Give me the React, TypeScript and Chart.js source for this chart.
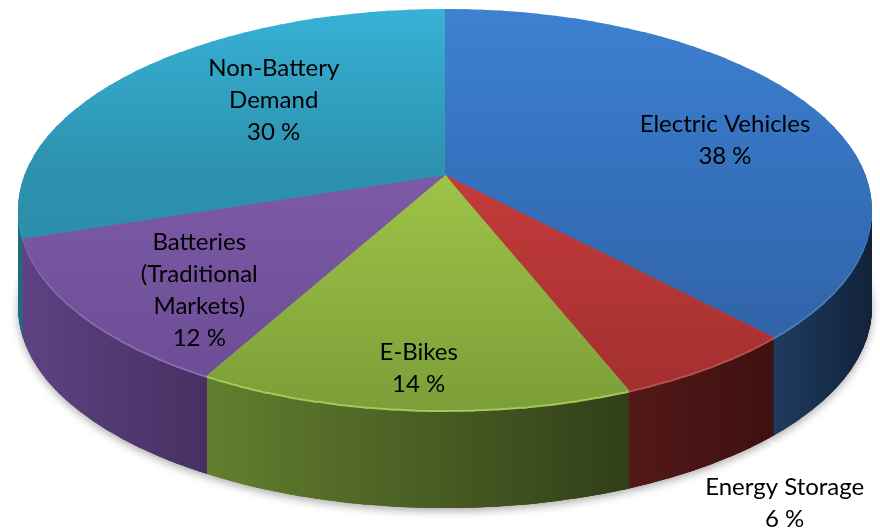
import React, { useEffect, useRef } from 'react';
import { Chart, registerables } from 'chart.js';

Chart.register(...registerables);

// ---- data ----
const categories = ['Electric Vehicles', 'Energy Storage', 'E-Bikes', 'Batteries (Traditional Markets)', 'Non-Battery Demand'];
const labelLines = [['Electric Vehicles'], ['Energy Storage'], ['E-Bikes'], ['Batteries', '(Traditional', 'Markets)'], ['Non-Battery', 'Demand']];
const shares = [38, 6, 14, 12, 30];

// ---- styles ----
// top face: colour at screen top edge, at pie centre, at front edge
const topColors = [
  ['#3D81D1', '#3571BD', '#2F5E9F'],
  ['#CA4242', '#C33C3B', '#A12E2E'],
  ['#A8D04D', '#9DC447', '#7B9E38'],
  ['#8765B2', '#7C5AA6', '#6B4B93'],
  ['#37B1D6', '#2C91AD', '#2A8AA5'],
];
// side wall: left, right
const wallColors = [
  ['#1F3B60', '#12223A'],
  ['#541818', '#3E1010'],
  ['#637F2E', '#313F19'],
  ['#5E4283', '#473061'],
  ['#1F6A80', '#1F6A80'],
];
// thin light bevel along the front rim
const rimColors = ['#4D80BE', '#BA5050', '#A5C95A', '#8A6DB0', '#4AA5C0'];
// label layout (radius factor on the top face, nudges); outside = placed below the rim
const labelLayout = [
  { f: 0.75, dx: 0, dy: 17 },
  { outside: true, dx: 76, dy: 38 },
  { f: 0.85, dx: 0, dy: 0 },
  { f: 0.7, dx: 0, dy: 21 },
  { f: 0.55, dx: 6, dy: -15 },
];

// perspective of the pie's top plane
const PERSP = { x0: 445, y0: 175, alpha: 420.6, beta: 194.6, k: 0.1721, depth: 98 };
const WEDGES = 120;
const OVERLAP_PX = 1.5;
const FONT = '24px Lato';
const LINE_H = 32;

function project(u: number, v: number) {
  const w = 1 - PERSP.k * v;
  return { x: PERSP.x0 + (PERSP.alpha * u) / w, y: PERSP.y0 + (PERSP.beta * v) / w };
}

type T = { a: number; b: number; c: number; d: number; e: number; f: number };

function wedgeTransform(C: { x: number; y: number }, R: number, p1: number, p2: number, dy: number): T {
  const e1x = Math.cos(p1), e1y = Math.sin(p1), e2x = Math.cos(p2), e2y = Math.sin(p2);
  const q1 = project(e1x, e1y), q2 = project(e2x, e2y);
  const q1x = q1.x - PERSP.x0, q1y = q1.y - PERSP.y0, q2x = q2.x - PERSP.x0, q2y = q2.y - PERSP.y0;
  const det = e1x * e2y - e2x * e1y;
  const A00 = (q1x * e2y - q2x * e1y) / det;
  const A01 = (-q1x * e2x + q2x * e1x) / det;
  const A10 = (q1y * e2y - q2y * e1y) / det;
  const A11 = (-q1y * e2x + q2y * e1x) / det;
  const a = A00 / R, c = A01 / R, b = A10 / R, d = A11 / R;
  return { a, b, c, d, e: PERSP.x0 - a * C.x - c * C.y, f: PERSP.y0 + dy - b * C.x - d * C.y };
}

// gradient in chart space whose isolines are vertical (axis x) or horizontal (axis y) on screen
function screenGradient(ctx: CanvasRenderingContext2D, t: T, axis: 'x' | 'y', s0: number, s1: number, stops: [number, string][]) {
  const nx = axis === 'x' ? t.a : t.b;
  const ny = axis === 'x' ? t.c : t.d;
  const off = axis === 'x' ? t.e : t.f;
  const n2 = nx * nx + ny * ny;
  const k0 = (s0 - off) / n2, k1 = (s1 - off) / n2;
  const g = ctx.createLinearGradient(k0 * nx, k0 * ny, k1 * nx, k1 * ny);
  stops.forEach(([o, col]) => g.addColorStop(o, col));
  return g;
}

function drawArcWith(arc: any, ctx: CanvasRenderingContext2D, bg: any) {
  const orig = arc.options;
  arc.options = Object.assign({}, orig, { backgroundColor: bg, borderWidth: 0 });
  arc.draw(ctx);
  arc.options = orig;
}

function inWedge(arc: any, p1: number, p2: number) {
  const m = 0.02;
  return arc.endAngle > p1 - m && arc.startAngle < p2 + m && arc.endAngle - arc.startAngle > 0;
}

function paintWedge(ctx: CanvasRenderingContext2D, t: T, C: any, R: number, p1: number, p2: number, s: number, paint: () => void) {
  ctx.save();
  ctx.setTransform(t.a, t.b, t.c, t.d, t.e, t.f);
  const L = R * 1.4;
  const pm = (p1 + p2) / 2;
  const back = s > 0 ? 2 : 0;
  const e1 = [Math.cos(p1), Math.sin(p1)], e2 = [Math.cos(p2), Math.sin(p2)];
  const n1 = [Math.cos(p1 - Math.PI / 2), Math.sin(p1 - Math.PI / 2)];
  const n2 = [Math.cos(p2 + Math.PI / 2), Math.sin(p2 + Math.PI / 2)];
  ctx.beginPath();
  ctx.moveTo(C.x + s * n1[0] - back * e1[0], C.y + s * n1[1] - back * e1[1]);
  ctx.lineTo(C.x + s * n1[0] + L * e1[0], C.y + s * n1[1] + L * e1[1]);
  ctx.lineTo(C.x + L * Math.cos(pm), C.y + L * Math.sin(pm));
  ctx.lineTo(C.x + s * n2[0] + L * e2[0], C.y + s * n2[1] + L * e2[1]);
  ctx.lineTo(C.x + s * n2[0] - back * e2[0], C.y + s * n2[1] - back * e2[1]);
  ctx.closePath();
  ctx.clip();
  paint();
  ctx.restore();
}

const pie3d = {
  id: 'pie3d',
  beforeDatasetsDraw(chart: any) {
    const meta = chart.getDatasetMeta(0);
    const arcs = meta.data;
    if (!arcs.length) return false;
    const arc0 = arcs[0];
    const R = arc0.outerRadius;
    const C = { x: arc0.x, y: arc0.y };
    const ctx: CanvasRenderingContext2D = chart.ctx;
    const start = -Math.PI / 2;
    const step = (2 * Math.PI) / WEDGES;

    // screen x-range of each slice's visible wall
    const wallRange = arcs.map((arc: any) => {
      let xmin = Infinity, xmax = -Infinity;
      const n = 100;
      for (let i = 0; i <= n; i++) {
        const a = arc.startAngle + ((arc.endAngle - arc.startAngle) * i) / n;
        if (Math.sin(a) >= PERSP.k - 0.001) {
          const p = project(Math.cos(a), Math.sin(a));
          xmin = Math.min(xmin, p.x);
          xmax = Math.max(xmax, p.x);
        }
      }
      if (!isFinite(xmin)) return null;
      return [xmin, Math.max(xmax, xmin + 1)];
    });

    // side walls: stacked translated copies, deepest first
    const wallWedges: { p1: number; p2: number; t0: T; fills: Map<number, any> }[] = [];
    for (let w = 0; w < WEDGES; w++) {
      const p1 = start + w * step, p2 = p1 + step;
      if (Math.max(Math.sin(p1), Math.sin(p2)) < -0.3) continue;
      const t0 = wedgeTransform(C, R, p1, p2, 0);
      const fills = new Map<number, any>();
      arcs.forEach((arc: any, i: number) => {
        if (!inWedge(arc, p1, p2)) return;
        const r = wallRange[i];
        fills.set(i, r ? screenGradient(ctx, t0, 'x', r[0], r[1], [[0, wallColors[i][0]], [1, wallColors[i][1]]]) : wallColors[i][0]);
      });
      wallWedges.push({ p1, p2, t0, fills });
    }
    // soft shadow under the base
    wallWedges.forEach(({ p1, p2, t0, fills }) => {
      const t = { ...t0, f: t0.f + PERSP.depth };
      paintWedge(ctx, t, C, R, p1, p2, 0, () => {
        ctx.shadowColor = 'rgba(0,0,0,0.33)';
        ctx.shadowBlur = 9;
        ctx.shadowOffsetY = 3;
        fills.forEach((fill, i) => drawArcWith(arcs[i], ctx, fill));
      });
    });
    for (let d = PERSP.depth; d >= 1; d--) {
      wallWedges.forEach(({ p1, p2, t0, fills }) => {
        const t = { ...t0, f: t0.f + d };
        paintWedge(ctx, t, C, R, p1, p2, OVERLAP_PX, () => {
          fills.forEach((fill, i) => drawArcWith(arcs[i], ctx, d <= 2 ? rimColors[i] : fill));
        });
      });
    }

    // top face
    const midStop = (PERSP.y0 - 9) / (410 - 9);
    for (let w = 0; w < WEDGES; w++) {
      const p1 = start + w * step, p2 = p1 + step;
      const t = wedgeTransform(C, R, p1, p2, 0);
      paintWedge(ctx, t, C, R, p1, p2, OVERLAP_PX, () => {
        arcs.forEach((arc: any, i: number) => {
          if (!inWedge(arc, p1, p2)) return;
          const g = screenGradient(ctx, t, 'y', 9, 410, [[0, topColors[i][0]], [midStop, topColors[i][1]], [1, topColors[i][2]]]);
          drawArcWith(arc, ctx, g);
        });
      });
    }
    return false;
  },
  afterDraw(chart: any) {
    const meta = chart.getDatasetMeta(0);
    const ctx: CanvasRenderingContext2D = chart.ctx;
    ctx.save();
    ctx.setTransform(1, 0, 0, 1, 0, 0);
    ctx.font = FONT;
    ctx.fillStyle = '#000000';
    ctx.textAlign = 'center';
    ctx.textBaseline = 'middle';
    meta.data.forEach((arc: any, i: number) => {
      const mid = (arc.startAngle + arc.endAngle) / 2;
      const lay: any = labelLayout[i];
      const lines = [...labelLines[i], `${shares[i]} %`];
      let p;
      if (lay.outside) {
        const e = project(Math.cos(mid), Math.sin(mid));
        p = { x: e.x + lay.dx, y: e.y + PERSP.depth + lay.dy };
      } else {
        const e = project(Math.cos(mid) * lay.f, Math.sin(mid) * lay.f);
        p = { x: e.x + lay.dx, y: e.y + lay.dy };
      }
      const y0 = p.y - ((lines.length - 1) * LINE_H) / 2;
      lines.forEach((txt, k) => ctx.fillText(txt, p.x, y0 + k * LINE_H));
    });
    ctx.restore();
  },
};

export default function App() {
  const ref = useRef<HTMLCanvasElement | null>(null);
  useEffect(() => {
    if (!ref.current) return;
    const chart = new Chart(ref.current, {
      type: 'pie',
      data: {
        labels: categories,
        datasets: [{ data: shares, backgroundColor: topColors.map((c) => c[1]), borderWidth: 0 }],
      },
      options: {
        animation: false,
        responsive: true,
        maintainAspectRatio: false,
        plugins: { legend: { display: false }, tooltip: { enabled: false } },
      },
      plugins: [pie3d as any],
    });
    return () => chart.destroy();
  }, []);
  return (
    <div style={{ position: 'absolute', left: 0, top: 0, width: 880, height: 530, background: '#ffffff' }}>
      <canvas ref={ref} />
    </div>
  );
}
